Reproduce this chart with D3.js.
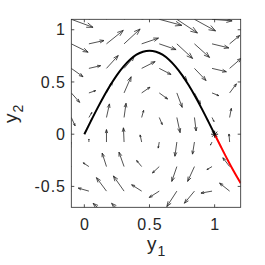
<!DOCTYPE html>
<html><head><meta charset="utf-8">
<script src="https://cdn.jsdelivr.net/npm/d3@7"></script>
<style>html,body{margin:0;padding:0;background:#fff}svg{display:block}</style>
</head><body>
<script>
// ---- data ----
const xDomain = [-0.1, 1.2];
const yDomain = [-0.7, 1.1];
const xTicks = [0, 0.5, 1];
const yTicks = [-0.5, 0, 0.5, 1];
const xTickLabels = ["0", "0.5", "1"];
const yTickLabels = ["-0.5", "0", "0.5", "1"];
// quiver grid
const xGrid = [-0.1, 0.035, 0.17, 0.305, 0.44, 0.575, 0.71, 0.845, 0.98, 1.115];
const yGrid = [1.1, 0.865, 0.63, 0.395, 0.16, -0.075, -0.31, -0.545, -0.78];
// arrow components (rows follow yGrid, columns follow xGrid)
const U = [
  [0.167, 0.14, 0.14, 0.14, 0.15, 0.173, 0.158, 0.162, 0.154, 0.08],
  [0.129, 0.116, 0.129, 0.123, 0.129, 0.129, 0.121, 0.116, 0.129, 0.077],
  [0.090, 0.090, 0.090, 0.077, 0.103, 0.090, 0.077, 0.089, 0.11, 0.090],
  [0.064, 0.052, 0.046, 0.054, 0.064, 0.064, 0.041, 0.046, 0.052, 0.052],
  [0.029, 0.023, 0.023, 0.015, 0.015, 0.023, 0.025, 0.013, 0.015, 0.013],
  [-0.008, 0.0, 0.0, -0.005, -0.012, -0.008, -0.015, -0.015, -0.012, -0.005],
  [-0.039, -0.044, -0.033, -0.039, -0.039, -0.052, -0.039, -0.052, -0.039, -0.052],
  [-0.077, -0.082, -0.077, -0.082, -0.077, -0.077, -0.077, -0.077, -0.085, -0.077],
  [-0.108, -0.108, -0.103, -0.096, -0.108, -0.108, -0.108, -0.108, -0.108, -0.100]
];
const V = [
  [-0.077, 0.12, 0.14, 0.12, 0.06, -0.058, -0.131, -0.111, -0.015, 0.10],
  [-0.080, 0.032, 0.129, 0.142, 0.055, -0.055, -0.140, -0.130, -0.039, 0.080],
  [-0.080, 0.026, 0.123, 0.111, 0.065, -0.058, -0.116, -0.116, -0.032, 0.097],
  [-0.090, 0.022, 0.106, 0.155, 0.055, -0.058, -0.138, -0.106, -0.026, 0.087],
  [-0.080, 0.048, 0.130, 0.136, 0.068, -0.068, -0.145, -0.129, -0.039, 0.087],
  [-0.060, 0.029, 0.119, 0.136, 0.068, -0.058, -0.136, -0.116, -0.029, 0.077],
  [-0.060, 0.036, 0.129, 0.138, 0.058, -0.061, -0.142, -0.142, -0.029, 0.084],
  [-0.050, 0.029, 0.129, 0.145, 0.061, -0.061, -0.148, -0.116, -0.019, 0.077],
  [-0.030, 0.029, 0.118, 0.118, 0.058, -0.058, -0.145, -0.116, -0.019, 0.077]
];
// trajectory (black) and continuation (red)
const pathY1 = [0, 0.05, 0.1, 0.15, 0.2, 0.25, 0.3, 0.35, 0.4, 0.45, 0.5, 0.55, 0.6, 0.65, 0.7, 0.75, 0.8, 0.85, 0.9, 0.95, 1.0];
const pathY2 = [0, 0.125, 0.247, 0.363, 0.470, 0.566, 0.647, 0.713, 0.761, 0.790, 0.800, 0.790, 0.761, 0.713, 0.647, 0.566, 0.470, 0.363, 0.247, 0.125, 0];
const redY1 = [1.0, 1.05, 1.1, 1.15, 1.2];
const redY2 = [0, -0.125, -0.247, -0.363, -0.47];
const markerPoint = [1, 0];

// ---- layout ----
const W = 265, H = 265;
const L = 71.3, R = 240.7, T = 19.3, B = 207.3;
const svg = d3.select("body").append("svg").attr("width", W).attr("height", H);
const x = d3.scaleLinear().domain(xDomain).range([L, R]);
const y = d3.scaleLinear().domain(yDomain).range([B, T]);
const axCol = "#262626";
const font = "'Liberation Sans', Arial, sans-serif";

svg.append("defs").append("clipPath").attr("id", "clip")
  .append("rect").attr("x", L).attr("y", T).attr("width", R - L).attr("height", B - T);

const plot = svg.append("g").attr("clip-path", "url(#clip)");

// quiver
const arrows = [];
yGrid.forEach((yv, r) => xGrid.forEach((xv, c) => arrows.push({x0: xv, y0: yv, u: U[r][c], v: V[r][c]})));
const qg = plot.append("g").attr("stroke", "#262626").attr("stroke-width", 0.8).attr("fill", "none");
arrows.forEach(a => {
  const x0 = x(a.x0), y0 = y(a.y0), x1 = x(a.x0 + a.u), y1 = y(a.y0 + a.v);
  const dx = x1 - x0, dy = y1 - y0;
  const len = Math.hypot(dx, dy);
  if (len < 0.3) return;
  const hb = 0.28, hw = 0.1;
  const bx = x1 - dx * hb, by = y1 - dy * hb;
  const px = -dy * hw, py = dx * hw;
  qg.append("path").attr("d",
    `M${x0},${y0}L${x1},${y1}M${bx + px},${by + py}L${x1},${y1}L${bx - px},${by - py}`);
});

// curves
const line = d3.line().x(d => x(d[0])).y(d => y(d[1])).curve(d3.curveMonotoneX);
plot.append("path").datum(pathY1.map((v, i) => [v, pathY2[i]]))
  .attr("d", line).attr("fill", "none").attr("stroke", "#000").attr("stroke-width", 2);
plot.append("path").datum(redY1.map((v, i) => [v, redY2[i]]))
  .attr("d", line).attr("fill", "none").attr("stroke", "#ff0000").attr("stroke-width", 2);

// asterisk marker
const mx = x(markerPoint[0]), my = y(markerPoint[1]), ms = 3.5, md = ms * 0.72;
plot.append("path").attr("d",
  `M${mx - ms},${my}L${mx + ms},${my}M${mx},${my - ms}L${mx},${my + ms}M${mx - md},${my - md}L${mx + md},${my + md}M${mx - md},${my + md}L${mx + md},${my - md}`)
  .attr("stroke", "#000").attr("stroke-width", 0.9).attr("fill", "none");

// frame and ticks
const ag = svg.append("g").attr("stroke", axCol).attr("stroke-width", 0.8).attr("fill", "none");
ag.append("rect").attr("x", L).attr("y", T).attr("width", R - L).attr("height", B - T);
const tl = 3;
xTicks.forEach(t => {
  ag.append("line").attr("x1", x(t)).attr("x2", x(t)).attr("y1", B).attr("y2", B - tl);
  ag.append("line").attr("x1", x(t)).attr("x2", x(t)).attr("y1", T).attr("y2", T + tl);
});
yTicks.forEach(t => {
  ag.append("line").attr("y1", y(t)).attr("y2", y(t)).attr("x1", L).attr("x2", L + tl);
  ag.append("line").attr("y1", y(t)).attr("y2", y(t)).attr("x1", R).attr("x2", R - tl);
});

// tick labels
const tg = svg.append("g").attr("fill", axCol).attr("font-family", font).attr("font-size", 16).attr("letter-spacing", 1);
xTicks.forEach((t, i) => tg.append("text").attr("x", x(t) + 0.5).attr("y", 230).attr("text-anchor", "middle").text(xTickLabels[i]));
yTicks.forEach((t, i) => tg.append("text").attr("x", 66).attr("y", y(t) + 5.7).attr("text-anchor", "end").text(yTickLabels[i]));

// axis labels
const xl = svg.append("text").attr("x", 147).attr("y", 250).attr("font-family", font).attr("font-size", 19).attr("fill", axCol);
xl.append("tspan").text("y");
xl.append("tspan").attr("font-size", 14).attr("dx", 1).attr("dy", 6).text("1");
const yl = svg.append("text").attr("transform", "translate(17,123) rotate(-90)").attr("font-family", font).attr("font-size", 19).attr("fill", axCol);
yl.append("tspan").text("y");
yl.append("tspan").attr("font-size", 14).attr("dx", 1).attr("dy", 6).text("2");
</script>
</body></html>
